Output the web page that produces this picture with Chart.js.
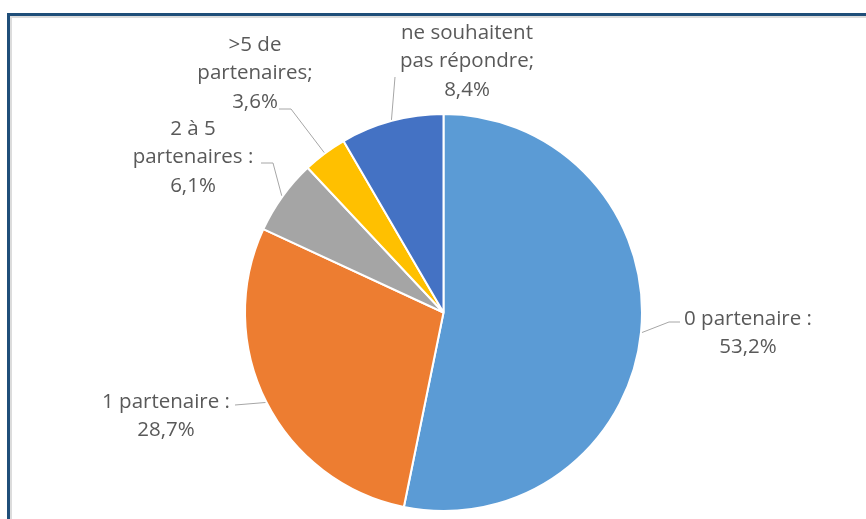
<!DOCTYPE html>
<html>
<head>
<meta charset="utf-8">
<script src="https://cdn.jsdelivr.net/npm/chart.js@4"></script>
<style>
  html, body { margin: 0; padding: 0; background: #fff; }
  #wrap { position: relative; width: 866px; height: 519px; overflow: hidden; }
  #frame { position: absolute; left: 7px; top: 13px; width: 900px; height: 560px;
           border-left: 3px solid #1F4E79; border-top: 3px solid #1F4E79;
           box-shadow: 2px 2px 0 #dcdcdc inset; }
  canvas { position: absolute; left: 0; top: 0; }
</style>
</head>
<body>
<div id="wrap">
  <div id="frame"></div>
  <canvas id="myChart" width="866" height="519"></canvas>
</div>
<script>
// data
var categories = ["0 partenaire :", "1 partenaire :", "2 à 5 partenaires :", ">5 de partenaires;", "ne souhaitent pas répondre;"];
var values = [53.2, 28.7, 6.1, 3.6, 8.4];
var valueLabels = ["53,2%", "28,7%", "6,1%", "3,6%", "8,4%"];
var colors = ["#5B9BD5", "#ED7D31", "#A5A5A5", "#FFC000", "#4472C4"];

// label layout (text lines, center x, first line y, leader elbow)
var labelLines = [
  ["0 partenaire :", "53,2%"],
  ["1 partenaire :", "28,7%"],
  ["2 à 5", "partenaires :", "6,1%"],
  [">5 de", "partenaires;", "3,6%"],
  ["ne souhaitent", "pas répondre;", "8,4%"]
];
var labelPos = [
  {x: 748, y: 319, elbow: [[680, 322], [669, 322]]},
  {x: 166, y: 402, elbow: [[235, 405]]},
  {x: 193, y: 129, elbow: [[261, 163], [273, 163]]},
  {x: 255, y: 45, elbow: [[279, 109], [291, 109]]},
  {x: 467, y: 33, elbow: [[395, 77]]}
];

var labelPlugin = {
  id: 'pieLabels',
  afterDatasetsDraw: function (chart) {
    var ctx = chart.ctx;
    var meta = chart.getDatasetMeta(0);
    ctx.save();
    meta.data.forEach(function (arc, i) {
      var p = arc.getProps(['x', 'y', 'startAngle', 'endAngle', 'outerRadius'], true);
      var a = (p.startAngle + p.endAngle) / 2;
      var ex = p.x + Math.cos(a) * (p.outerRadius + 1);
      var ey = p.y + Math.sin(a) * (p.outerRadius + 1);
      var pos = labelPos[i];
      ctx.strokeStyle = "#A6A6A6";
      ctx.lineWidth = 1;
      ctx.beginPath();
      ctx.moveTo(pos.elbow[0][0], pos.elbow[0][1]);
      for (var k = 1; k < pos.elbow.length; k++) ctx.lineTo(pos.elbow[k][0], pos.elbow[k][1]);
      ctx.lineTo(ex, ey);
      ctx.stroke();

      ctx.fillStyle = "#595959";
      ctx.font = "20.5px 'Open Sans'";
      ctx.textAlign = "center";
      ctx.textBaseline = "middle";
      labelLines[i].forEach(function (t, j) {
        ctx.fillText(t, pos.x, pos.y + j * 28.5);
      });
    });
    ctx.restore();
  }
};

new Chart(document.getElementById('myChart').getContext('2d'), {
  type: 'pie',
  data: {
    labels: categories,
    datasets: [{
      data: values,
      backgroundColor: colors,
      borderColor: "#ffffff",
      borderWidth: 2
    }]
  },
  options: {
    responsive: false,
    animation: false,
    layout: { padding: { top: 113, bottom: 7, left: 244, right: 223 } },
    plugins: {
      legend: { display: false },
      tooltip: { enabled: false }
    }
  },
  plugins: [labelPlugin]
});
</script>
</body>
</html>
